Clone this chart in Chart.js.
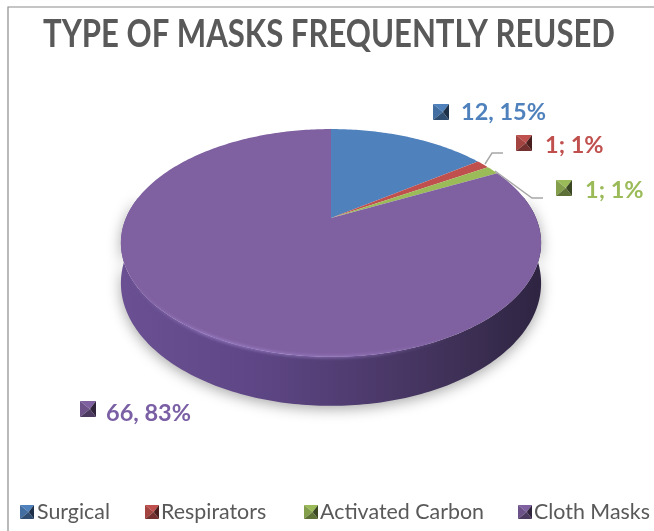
<!DOCTYPE html>
<html><head><meta charset="utf-8">
<style>html,body{margin:0;padding:0;background:#fff}#w{width:654px;height:531px;position:relative}</style>
<script src="https://cdn.jsdelivr.net/npm/chart.js@4/dist/chart.umd.js"></script>
</head><body><div id="w"><canvas id="c" width="654" height="531"></canvas></div>
<script>
const chartTitle = 'TYPE OF MASKS FREQUENTLY REUSED';
const categories = ['Surgical', 'Respirators', 'Activated Carbon', 'Cloth Masks'];
const values = [12, 1, 1, 66];
const valueLabels = ['12, 15%', '1; 1%', '1; 1%', '66, 83%'];
const colors = ['#4F81BD', '#C0504D', '#9BBB59', '#7F60A0'];
const textColors = ['#4F81BD', '#C0504D', '#9BBB59', '#7A5FA5'];

// layout of hand-placed annotations
const labelBoxes = [[433, 104], [516, 135], [556, 180], [80, 401]];
const labelText = [[461, 112], [545, 145], [585, 190], [106, 413]];
const leaders = [null, [[485, 164], [492, 153], [503, 153]], [[495, 171], [532, 198], [543, 198]], null];
const legendMarkerX = [20, 145, 304, 518];
const legendTextX = [37, 161, 320, 534];
const legendY = 512;

// projective view of the pie: tilt + perspective
const K = 0.219, SY = 0.529, CX = 331, CY = 218, DEPTH = 49;
const project = (R, t) => {
  const u = Math.cos(t), v = Math.sin(t), w = 1 - K * v;
  return [CX + R * u / w, CY + R * SY * v / w, w];
};
const Arc = Chart.ArcElement;
Arc.prototype.draw = function (ctx) {
  const {outerRadius: R, startAngle: a, endAngle: b} = this.getProps(['outerRadius', 'startAngle', 'endAngle']);
  const lo = Math.max(a, -0.2), hi = Math.min(b, Math.PI + 0.2);
  if (hi > lo) {
    const n = Math.ceil((hi - lo) * 60), top = [], bot = [];
    for (let i = 0; i <= n; i++) {
      const p = project(R, lo + (hi - lo) * i / n);
      const d = DEPTH * (1 - K) / p[2];
      top.push(p); bot.push([p[0], p[1] + d]);
    }
    ctx.save();
    ctx.shadowColor = 'rgba(0,0,0,0.35)'; ctx.shadowBlur = 14; ctx.shadowOffsetY = 3;
    const g = ctx.createLinearGradient(CX - R, 0, CX + R, 0);
    g.addColorStop(0, '#6A5092'); g.addColorStop(0.3, '#5F4787'); g.addColorStop(0.6, '#4D3A6C');
    g.addColorStop(0.85, '#3B2E52'); g.addColorStop(1, '#2F2543');
    ctx.fillStyle = g;
    ctx.beginPath();
    top.forEach((p, i) => i ? ctx.lineTo(p[0], p[1]) : ctx.moveTo(p[0], p[1]));
    bot.reverse().forEach(p => ctx.lineTo(p[0], p[1]));
    ctx.closePath(); ctx.fill();
    ctx.restore();
  }
  ctx.save();
  ctx.fillStyle = this.options.backgroundColor;
  ctx.beginPath();
  ctx.moveTo(CX, CY);
  const n = Math.max(2, Math.ceil((b - a) * 60));
  for (let i = 0; i <= n; i++) {
    const p = project(R, a + (b - a) * i / n);
    ctx.lineTo(p[0], p[1]);
  }
  ctx.closePath(); ctx.fill();
  ctx.restore();
  const hiRim = Math.min(b, Math.PI - 0.05), loRim = Math.max(a, 0.2);
  if (hiRim > loRim) {
    const h = ctx.createLinearGradient(CX - R, 0, CX + R, 0);
    h.addColorStop(0, 'rgba(160,132,205,0)'); h.addColorStop(0.2, 'rgba(160,132,205,0.7)');
    h.addColorStop(0.55, 'rgba(160,132,205,0.55)');
    h.addColorStop(0.8, 'rgba(160,132,205,0)'); h.addColorStop(1, 'rgba(160,132,205,0)');
    ctx.save();
    ctx.strokeStyle = h; ctx.lineWidth = 3; ctx.filter = 'blur(1.5px)';
    ctx.beginPath();
    const m = Math.ceil((hiRim - loRim) * 60);
    for (let i = 0; i <= m; i++) {
      const p = project(R, loRim + (hiRim - loRim) * i / m);
      i ? ctx.lineTo(p[0], p[1]) : ctx.moveTo(p[0], p[1]);
    }
    ctx.stroke();
    ctx.restore();
  }
};

function shade(hex, f) {
  const n = parseInt(hex.slice(1), 16);
  const c = [n >> 16, (n >> 8) & 255, n & 255].map(v => Math.round(f < 1 ? v * f : v + (255 - v) * (f - 1)));
  return `rgb(${c[0]},${c[1]},${c[2]})`;
}
function marker(ctx, x, y, s, col) {
  const cx = x + s * 0.62, cy = y + s / 2;
  const tri = (a, b, c, d, f) => { ctx.fillStyle = f; ctx.beginPath(); ctx.moveTo(a, b); ctx.lineTo(c, d); ctx.lineTo(cx, cy); ctx.closePath(); ctx.fill(); };
  tri(x, y, x + s, y, shade(col, 1.0));
  tri(x, y, x, y + s, shade(col, 0.85));
  tri(x + s, y, x + s, y + s, shade(col, 0.38));
  tri(x, y + s, x + s, y + s, shade(col, 0.6));
}

const decor = {
  id: 'decor',
  beforeDraw(ch) {
    const c = ch.ctx; c.save();
    c.strokeStyle = '#8c8c8c'; c.lineWidth = 1.2;
    c.beginPath(); c.moveTo(8, 531); c.lineTo(8, 7); c.lineTo(654, 7); c.stroke();
    c.restore();
  },
  afterDatasetsDraw(ch) {
    const c = ch.ctx; c.save();
    c.strokeStyle = '#A6A6A6'; c.lineWidth = 1.4;
    leaders.forEach(l => { if (!l) return; c.beginPath(); l.forEach((p, i) => i ? c.lineTo(p[0], p[1]) : c.moveTo(p[0], p[1])); c.stroke(); });
    c.font = 'bold 23.5px Lato'; c.textBaseline = 'middle'; c.textAlign = 'left';
    valueLabels.forEach((t, i) => {
      marker(c, labelBoxes[i][0], labelBoxes[i][1], 16, colors[i]);
      c.fillStyle = textColors[i];
      c.fillText(t, labelText[i][0], labelText[i][1]);
    });
    c.font = '21.4px Lato';
    categories.forEach((t, i) => {
      marker(c, legendMarkerX[i], legendY - 7, 14, colors[i]);
      c.fillStyle = '#595959';
      c.fillText(t, legendTextX[i], legendY);
    });
    c.restore();
  }
};

new Chart(document.getElementById('c'), {
  type: 'pie',
  data: { labels: categories, datasets: [{ data: values, backgroundColor: colors, borderWidth: 0, hoverOffset: 0, radius: 205 }] },
  plugins: [decor],
  options: {
    responsive: false, animation: false,
    layout: { padding: { left: 43, right: 39 } },
    plugins: {
      tooltip: { enabled: false },
      legend: { display: false },
      title: { display: true, text: chartTitle, color: '#595959', font: { family: 'Lato', weight: 'bold', size: 39 }, padding: { top: 11, bottom: 4 } }
    }
  }
});
</script></body></html>
